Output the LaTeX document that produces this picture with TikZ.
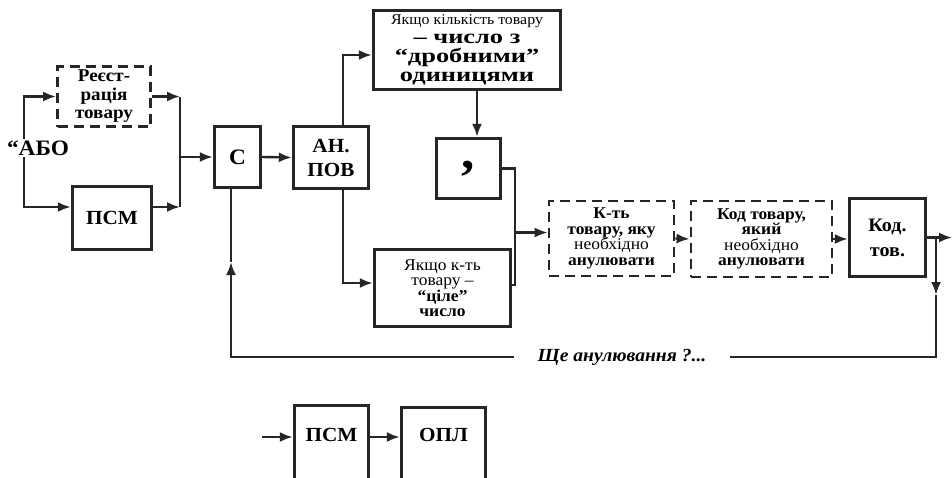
\documentclass[tikz,border=0pt]{standalone}
\usepackage{fontspec}
\setmainfont{Liberation Serif}[FakeStretch=1.06]
\newfontfamily\widefam{Liberation Serif}[FakeStretch=1.32]
\usetikzlibrary{arrows.meta}
\newcommand\fsz[1]{\fontsize{#1}{#1}\selectfont}
\begin{document}
\begin{tikzpicture}[x=1pt,y=-1pt,
  box/.style={draw=black!85, line width=3.4pt, inner sep=0pt, align=center,
    font=\fontsize{20}{24}\selectfont\bfseries},
  dbox/.style={box, line width=2.8pt, dash pattern=on 10pt off 6pt},
  conn/.style={draw=black!85, line width=2.4pt},
  arr/.style={conn, -{Latex[length=13pt,width=10pt]}},
  smallbox/.style={box, font=\fontsize{16.5}{15.5}\selectfont},
]
\useasboundingbox (0,0) rectangle (952,477);
\clip (0,0) rectangle (952,477);
\fill[white] (0,0) rectangle (952,477);

% ---------- nodes ----------
\node[dbox, minimum width=93, minimum height=60,
  font=\fontsize{18}{18.5}\selectfont\bfseries] (reg) at (104,96.5) {Реєст-\\рація\\товару};
\node[font=\fontsize{22}{22}\selectfont\bfseries, inner sep=1pt] (abo) at (38,148) {“АБО};
\node[box, minimum width=79, minimum height=63] (psm) at (112,218) {ПСМ};
\node[box, minimum width=46, minimum height=61, font=\fontsize{22}{22}\selectfont\bfseries] (c) at (237.5,157) {С};
\node[box, minimum width=75, minimum height=62] (anpov) at (331,157.5) {АН.\\ПОВ};
\node[box, minimum width=187, minimum height=79, font=\widefam\fontsize{20}{19}\selectfont\bfseries]
  (frac) at (467,50) {{\normalfont\fsz{15}Якщо кількість товару}\\– число з\\“дробними”\\одиницями};
\node[box, minimum width=64, minimum height=60, font=\fontsize{50}{50}\selectfont\bfseries]
  (comma) at (468.5,168.5) {,};
\node[smallbox, minimum width=136, minimum height=77] (ytt) at (442.5,288)
  {Якщо к-ть\\товару –\\\textbf{“ціле”}\\\textbf{число}};
\node[dbox, minimum width=125, minimum height=75, font=\fontsize{16.5}{15.5}\selectfont] (kt) at (611.5,238.5)
  {\textbf{К-ть}\\\textbf{товару, яку}\\необхідно\\\textbf{анулювати}};
\node[dbox, minimum width=141, minimum height=76, font=\fontsize{16.5}{15.5}\selectfont] (kod) at (761.5,239)
  {\textbf{Код товару,}\\\textbf{який}\\необхідно\\\textbf{анулювати}};
\node[box, minimum width=76, minimum height=78, font=\fontsize{19}{25}\selectfont\bfseries]
  (kodtov) at (887.5,237.5) {Код.\\тов.};
\node[font=\fontsize{18.5}{18.5}\selectfont\bfseries\itshape, minimum width=215, inner sep=0pt]
  (lab) at (622,357) {Ще анулювання ?...};
\node[box, anchor=base, minimum width=74, text height=35.5pt, text depth=50pt] (psmb) at (331.5,441) {ПСМ};
\node[box, anchor=base, minimum width=84, text height=33.5pt, text depth=50pt] (opl) at (443.5,441) {ОПЛ};

% ---------- helper coordinates ----------
\coordinate (lx) at (24,0);
\coordinate (mx) at (180,0);
\coordinate (ax) at (343,0);
\coordinate (fx) at (477,0);
\coordinate (jx) at (515,0);
\coordinate (dx) at (936,0);
\coordinate (outx) at (952,0);
\coordinate (downtip) at (936,295);
\coordinate (uptip) at (231,262);
\coordinate (bin) at (262,437);

% ---------- connectors ----------
\draw[arr] (abo.north -| lx) |- (reg.west);
\draw[arr] (abo.south -| lx) |- ([yshift=11pt]psm.west);
\draw[arr] (reg.east) -- (reg.east -| mx);
\draw[arr] ([yshift=11pt]psm.east) -- ([yshift=11pt]psm.east -| mx);
\draw[conn] (reg.east -| mx) -- ([yshift=11pt]psm.east -| mx);
\draw[arr] (c.west -| mx) -- (c.west);
\draw[arr] (c.east) -- (anpov.west);
\draw[arr] (anpov.north -| ax) |- ([yshift=-5pt]frac.west);
\draw[arr] (anpov.south -| ax) |- ([yshift=5pt]ytt.west);
\draw[arr] (frac.south -| fx) -- (comma.north -| fx);
\draw[conn] (comma.east) -| ([yshift=3pt]ytt.east -| jx) -- ([yshift=3pt]ytt.east);
\draw[arr] ([yshift=6pt]kt.west -| jx) -- ([yshift=6pt]kt.west);
\draw[arr] (kt.east) -- (kod.west);
\draw[arr] (kod.east) -- (kod.east -| kodtov.west);
\draw[arr] (kodtov.east) -- (kodtov.east -| outx);
\draw[arr] (kodtov.east -| dx) -- (downtip);
\draw[conn] (downtip) |- (lab.east);
\draw[arr] (lab.west) -| (uptip);
\draw[conn] (uptip) -- (c.south -| uptip);
\draw[arr] (bin) -- (bin -| psmb.west);
\draw[arr] (bin -| psmb.east) -- (bin -| opl.west);
\end{tikzpicture}
\end{document}
